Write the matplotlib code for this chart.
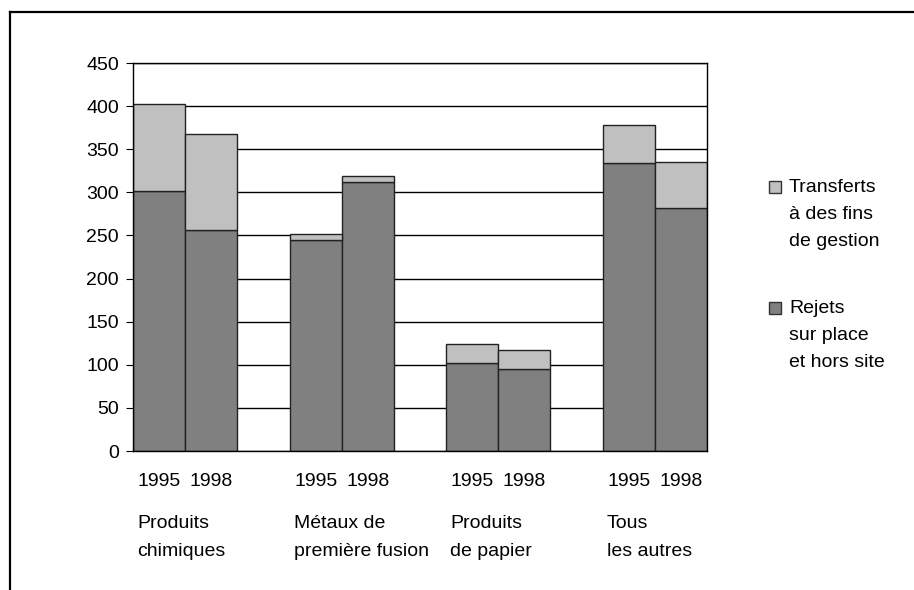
import numpy as np
import matplotlib.pyplot as plt
from matplotlib.lines import Line2D
from matplotlib.patches import Rectangle

plt.rcParams['font.family'] = ['Liberation Sans', 'DejaVu Sans']

# data
categories = ["Produits\nchimiques", "Métaux de\npremière fusion", "Produits\nde papier", "Tous\nles autres"]
years = ["1995", "1998"]
rejets = [302, 256, 245, 312, 102, 95, 334, 282]
transferts = [100, 112, 7, 7, 22, 22, 44, 53]
legend_labels = ["Transferts\nà des fins\nde gestion", "Rejets\nsur place\net hors site"]

light = "#c0c0c0"
dark = "#808080"
fs = 14

fig = plt.figure(figsize=(9.14, 5.90), dpi=100)
ax = fig.add_axes([133 / 914, 139 / 590, 574 / 914, 388 / 590])

# bar positions: two bars per group, one empty slot between groups
x = []
for g in range(len(categories)):
    x += [g * 3, g * 3 + 1]
x = np.array(x)

ax.bar(x, rejets, width=1.0, color=dark, edgecolor="#222222", linewidth=1, zorder=2)
ax.bar(x, transferts, width=1.0, bottom=rejets, color=light, edgecolor="#222222", linewidth=1, zorder=2)

ax.set_xlim(-0.5, 10.5)
ax.set_ylim(0, 450)
ax.set_yticks(range(0, 451, 50))
ax.yaxis.grid(True, color="black", linewidth=1)
ax.set_axisbelow(True)
for s in ax.spines.values():
    s.set_linewidth(1)
    s.set_color("black")

ax.set_xticks(x)
ax.set_xticklabels(years * len(categories))
ax.tick_params(axis="x", length=0, pad=16)
ax.tick_params(axis="y", length=5, pad=5)
for lab in ax.get_xticklabels() + ax.get_yticklabels():
    lab.set_fontsize(fs)

# category labels under the years
for g, cat in enumerate(categories):
    ax.annotate(cat, xy=(g * 3 - 0.5, 0), xycoords=("data", "axes fraction"),
                xytext=(3, -46), textcoords="offset points",
                ha="left", va="top", fontsize=fs, linespacing=1.84)

# legend drawn by hand, square aligned with first line
leg_colors = [light, dark]
leg_tops = [187, 308]
for lab, col, yc in zip(legend_labels, leg_colors, leg_tops):
    fig.add_artist(Rectangle((769 / 914, (590 - yc - 6) / 590), 12 / 914, 12 / 590,
                             transform=fig.transFigure, facecolor=col,
                             edgecolor="#333333", linewidth=1))
    fig.text(789 / 914, (590 - yc + 8) / 590, lab, ha="left", va="top",
             fontsize=fs, linespacing=1.76)

# outer frame (top and left edges)
fig.add_artist(Line2D([10 / 914, 1.0], [(590 - 12) / 590] * 2, color="black", linewidth=1.6,
                      transform=fig.transFigure))
fig.add_artist(Line2D([10 / 914, 10 / 914], [0, (590 - 12) / 590], color="black", linewidth=1.6,
                      transform=fig.transFigure))

fig.savefig("out.png", dpi=100)
